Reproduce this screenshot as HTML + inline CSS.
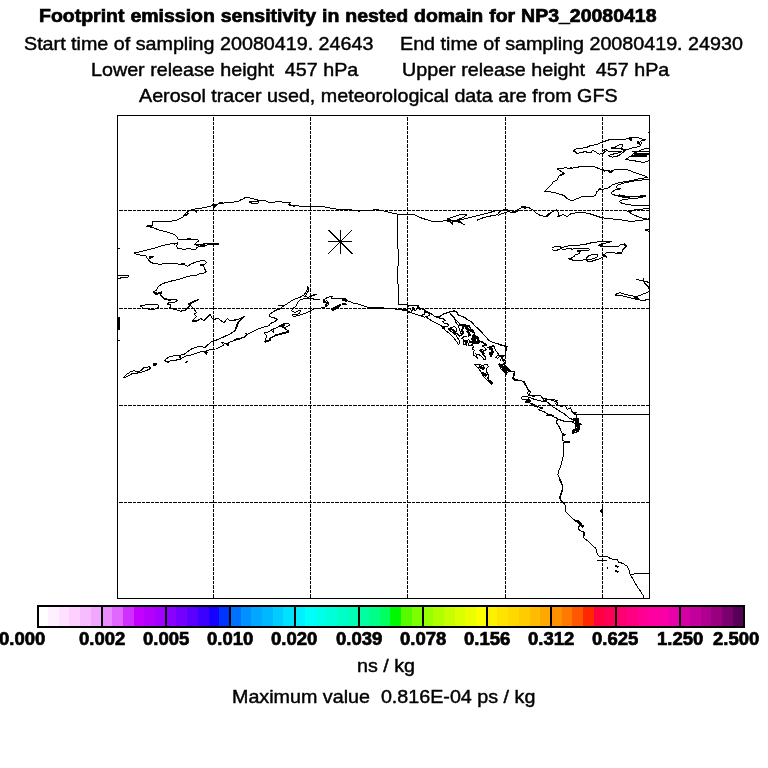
<!DOCTYPE html>
<html><head><meta charset="utf-8">
<style>
html,body{margin:0;padding:0;background:#fff;}
body{width:768px;height:768px;position:relative;overflow:hidden;font-family:"Liberation Sans",sans-serif;color:#000;}
.w{position:absolute;white-space:pre;font-size:19px;line-height:20px;height:20px;transform-origin:0 50%;-webkit-text-stroke:0.45px #000;will-change:transform;}
.b{font-weight:bold;-webkit-text-stroke:0.7px #000;}
.s{font-size:18.5px;}
svg{position:absolute;left:0;top:0;}
</style></head><body>
<svg width="768" height="768" viewBox="0 0 768 768" id="map">
<defs><clipPath id="mc"><rect x="117" y="115" width="533" height="484"/></clipPath></defs>
<g fill="none" stroke="#000" shape-rendering="crispEdges">
<g stroke-width="1" stroke-dasharray="4 1 3 1" stroke-dashoffset="7">
<line x1="213.5" y1="115" x2="213.5" y2="598"/>
<line x1="310.5" y1="115" x2="310.5" y2="598"/>
<line x1="407.5" y1="115" x2="407.5" y2="598"/>
<line x1="505.5" y1="115" x2="505.5" y2="598"/>
<line x1="602.5" y1="115" x2="602.5" y2="598"/>
<line x1="117" y1="210.5" x2="649" y2="210.5"/>
<line x1="117" y1="308.5" x2="649" y2="308.5"/>
<line x1="117" y1="405.5" x2="649" y2="405.5"/>
<line x1="117" y1="502.5" x2="649" y2="502.5"/>
</g>
<rect x="117.5" y="115.5" width="532" height="483" stroke-width="1"/>
</g>
<g fill="none" stroke="#000" stroke-linejoin="round" shape-rendering="crispEdges" clip-path="url(#mc)">
<path stroke-width="1" d="M242 199.2 L238.2 201.3 L230.7 202.5 L224 203 L219 203.7 L214 205.3 L207.3 207 L200.7 208.3 L194 209.2 L189 210.8 L185.7 213.3 L183.2 216.7 L178.2 219.7 L170.7 221.2 L162.3 221.7 L155.7 221.3 L152.7 221.7 L152.3 225.8 L146.8 226.3 L152.7 227.5 L159 230 L167.3 232 L174 234.2 L177 236.7 L178.2 239.2 L184 240 L189.8 239.7 L197.3 239.7 L198.7 240.8 L195.7 243 L194.8 245 L200.7 244.2 L207.3 243.7 L218.2 244.2 L218.2 244.7 L207.3 245 L204 246.7 L200.7 245.8 L196.5 247.5 L195.7 249.7 L189 248.7 L184 249.2 L178.2 248.7 L176.5 246.7 L177.3 243.7 L172.3 243.7 L165.7 244.7 L159 246.7 L152.3 248.7 L144 250.8 L139 252 L134.3 253 L137.3 254.7 L145.7 255.8 L147.3 258.3 L149.8 261.7 L153.2 263.3 L159 264.2 L167.3 263.7 L175.7 263.8 L180.7 264.2 L184.8 264.7 L187.3 266.3 L190.7 264.2 L195.7 262 L200.7 260.8 L204.8 260.8 L206.5 262.5 L204 264.7 L200.7 265 L204 266.7 L204.8 269.2 L206.5 271.3 L204 273 L200.7 273.3 L197.3 275 L192.3 275.3 L187.3 276.7 L182.3 278.3 L177.3 279.7 L172.3 280.8 L165.7 282.5 L160.7 284.7 L157.7 287.5 L156.5 290 L153.2 292 L155.7 294.2 L161.5 293 L160.7 295.3 L164 298.3 L170.7 300 L176.5 299.7 L177.3 300.8 L174 302.5 L169.8 302 L167.3 304.2 L170.7 305 L169.8 307.5 L173.2 309.2 L177.3 310 L180.7 311.2 L185.7 310 L188.2 307.5 L189.8 305.8 L188.2 304.2 L191.5 302.5 L195.7 300.3 L198.7 299.5 L195.7 301.3 L192.3 303 L189.8 304.7 L191.5 306.7 L194 309.2 L196.5 312.5 L194 314.2 L196.5 316.7 M149 256.7 L153.5 256.7 L149.8 258.3 L149 256.7 M184.8 215 L189 213 L187.3 215 L184.8 215 M193.2 210 L197.3 210.3 L196.5 212.2 L193.2 210 M117.7 275.3 L122.3 275.8 L128.7 275.8 L128.2 277 L123.2 277.5 L119 278.3 L117.7 278.3 M117.7 248.7 L120 248.3 M140.3 305.8 L147.3 304.7 L154 304.3 L158.2 305 L158.7 307.5 L155.7 308.7 L152.3 309.7 L147.3 308.8 L143.2 308 L140.3 305.8 M207.3 316.7 L210.7 314.2 M195.7 245 L200.7 246.7 L204.8 245 L200.7 244.2 M242 199.7 L245.3 197.5 L250.3 198 L254.5 199.2 L258.7 200.3 L264.5 200.3 L268.7 202.5 L275.3 202 L280.3 201.7 L285.3 202.5 L290.3 202.2 L288.7 204.7 L295.3 205.8 L303.7 206.3 L310.3 206.7 L317 206.2 L323.7 206.7 L330.3 208 L337 209.2 L345.3 209.7 L352 210 L358.7 211.2 L363.7 210.3 L370 210.3 M249.5 202 L253.7 201.3 L258.7 202 L257.8 203.3 L252 203.3 L249.5 202 M328.3 241.8 L352.3 241.8 M340.3 229.8 L340.3 253.8 M328.3 229.8 L352.3 253.8 M328.3 253.8 L352.3 229.8 M370 210.3 L376.7 209.7 L383.3 210.8 L390 212.5 L398 214.2 L407.5 214.2 L414.2 214.5 L420 217.5 L426.7 219.7 L431.7 221.2 L440 221.2 L446.7 220.8 L451.7 222.5 L456.7 220.8 L463.3 219.2 L470 217.5 L476.7 215.8 L483.3 214.2 L490 212.5 L498 210 M398 214.2 L397.8 240 L398.2 256.7 L397.8 276.7 L398.2 290 L398.2 304.2 L407 304.7 M446.7 219.2 L451.7 217.5 L456.7 215.8 L460.8 214.2 L466.7 215 L463.3 217.5 L458.3 219.2 L460.8 222.5 L464.2 224.7 L460 222.5 L455 220.8 L450 220 L451.7 223.3 L452.8 224.3 M476.7 220.3 L483.3 217.7 L490 216 L498 214.7 M478.3 219.7 L486.7 216.7 L493.3 215.5 M362 305.3 L370 308 L378.3 307.5 L386.7 308.3 L395 308.8 L403.3 309.7 L407.5 310 L408.3 305.8 L413.3 305 L418.3 305.8 L416.7 308.3 L420 309.2 L423.3 308.7 L425 311.7 L428.3 312.5 L431.7 314.2 L435 316.7 L438.3 317.5 L443.3 314.2 L448.3 312.5 L454.2 310.8 L456.7 312.5 L458.3 315 L463.3 316.7 L465.8 318 M407.5 310 L409.2 312.5 L413.3 313.3 L418.3 315 L423.3 316.7 L425 318 M410 308.3 L411.7 311.7 L414.2 308.3 L412.5 307.5 M450.8 314.2 L452.5 317 M556.9 168.5 L560 168.9 L564.8 167.9 L572 168.2 L576.8 167.3 L581.6 166.5 L587.6 166.1 L592.3 166.1 L595.9 167.3 L599.5 168.9 L603.1 170.3 L607.9 170.6 L610.3 171.5 L612.7 170.3 L617.5 169.4 L622.3 169.1 L625.9 169.4 L629.5 170.3 L631.9 171.5 L635.5 172.9 L639.1 174.1 L642.7 175.1 L646.2 176.3 L647.2 177.5 L643.9 178.1 L639.1 178.7 L634.3 179.9 L629.5 180.9 L624.7 181.7 L619.9 182.5 L616.3 183.5 L612.7 184.7 L610.3 186.5 L607.9 188.3 L604.3 188.9 L601.3 189.5 L599.5 188.5 L598.3 190.7 L596.5 191.9 L595.9 194.9 L593.5 196.1 L589.9 196.4 L586.4 196.7 L582.8 196.4 L579.2 197.9 L575.6 199.1 L573.2 200.3 L570.2 200 L567.2 198.5 L564.8 196.1 L562.4 194.9 L560 194.5 L555.9 192.9 L548.8 191.7 L544.3 191.7 L547.8 188.2 L551.8 184.2 L552.8 182.1 L556.9 180.1 L558.9 176 L564 173 L560 170.6 L556.9 168.5 M560 171.5 L562.4 172.1 L564.6 173.3 L562.4 174.9 L560 175.3 M573.4 150.5 L576.8 148.8 L581.6 148.2 L586.4 147.6 L589.9 145.8 L594.7 144.9 L598.3 144 L601.3 142.2 L605.5 141 L609.1 139.8 L613.9 139.2 L618.7 139.4 L623.5 139.2 L627.1 138.9 L629.5 137.7 L633.1 137.1 L637.9 137.7 L641.5 138.9 L645.1 139.4 L644.5 140.6 L640.9 141 L641.2 143.4 L640.3 145.8 L636.7 147 L633.1 147.6 L630.1 148.8 L627.1 149.3 L624.7 149.9 L622.9 149.3 L621.7 148.2 L622.3 146.6 L622.8 144.9 L621.1 144.6 L618.1 145.2 L615.1 147 L611.5 148.2 L614.5 148.8 L617.5 148.8 L620.5 148.8 L622.3 149.9 L625.3 150.9 L622.3 152.9 L619.3 155.3 L616.3 156.5 L612.7 157.1 L609.1 156.5 L608.5 155.3 L611.5 154.7 L615.1 153.5 L618.7 152.9 L621.1 151.7 L617.5 151.4 L613.9 151.4 L610.3 151.7 L607.3 150.9 L606.1 149.3 L604.3 149.9 L604.9 152.3 L602.5 153.5 L599.5 154.1 L597.1 152.9 L594.7 151.1 L592.3 150.9 L591.1 152.6 L588.8 152.9 L585.8 151.7 L582.8 152.1 L579.8 152.9 L576.8 153.3 L575 151.7 L573.4 150.5 M625.3 159.5 L628.3 157.7 L631.9 155.3 L634.3 152.9 L637.9 151.4 L641.5 149.9 L645.1 148.8 L649.2 148.2 M632.5 151.7 L649.2 151.4 M625.3 159.5 L629.5 160.1 L634.3 160.7 L639.1 161.9 L643.9 162.2 L647.4 161.3 L649.2 160.7 M649.2 179.3 L643.9 179.7 L637.9 180.5 L631.9 181.3 L627.1 182.3 L622.3 183.5 L618.7 184.7 L616.3 186.5 L617.5 188.9 L613.9 190.7 L611.5 192.5 L612.1 194.3 L615.1 195.2 L618.7 195.7 L622.3 196.7 L627.1 196.9 L631.9 196.7 L637.9 196.4 L645.7 196.2 L641.5 197.6 L636.7 198.1 L631.9 198.5 L627.1 199.1 L622.3 200 L619.3 201.5 L621.1 202.9 L624.7 203.9 L629.5 204.8 L634.3 205.3 L639.1 206 L643.9 205.7 L649.2 205.3 M649.2 208.4 L643.9 208.9 L639.1 209.6 L636.7 209.2 L634.3 210.1 L631.9 211 L629.5 212 M648.9 132.6 L649.2 133.8 M649.3 208.5 L640.2 209.2 L632.1 210.6 L628 211.6 L632.1 214 L638.2 216.7 L644.2 218.7 L649.3 219.3 M498 213.6 L501 210.6 L505.7 209.2 L510.2 210.6 L514.2 211.6 L518.3 209.6 L523.4 206.5 L528.5 207.5 L532.5 209.6 L535.6 212.6 L540.7 215.7 L546.8 216.7 L550.8 212.6 L556.9 209.6 L558.9 213.6 L557.9 216.7 L563 214.6 L567.1 216.7 L571.1 213.6 L577.2 212.6 L583.3 212.6 L589.4 213.6 L595.5 215.7 L601.6 217.7 L609.7 218.7 L619.9 219.7 L630 221.3 L640.2 220.7 L649.3 218.7 M498 215.7 L502.1 213.6 L508.2 211.6 L514.2 212.8 L520.3 210 M644.7 229.9 L649.3 228.9 L649.3 231.5 L644.7 229.9 M552.2 248.1 L553.8 246.9 L557.5 246.9 L559.4 246.2 L561.2 247.5 L565 246.9 L570 245.6 L575 245.2 L580 245 L585 244.4 L590 243.1 L595 242.2 L598.8 241.9 L602.5 241 L607.5 241.2 L611.2 241.5 L608.8 242.5 L605 243.1 L601.2 243.8 L598.8 245.2 L600 246.2 L603.8 246 L607.5 246.2 L611.2 246.9 L615 246.9 L618.8 246 L621.2 244.4 L625 243.8 L626.9 245.6 L625 247.5 L623.1 249.4 L621.9 251.9 L620 253.1 L616.2 253.5 L613.1 252.5 L608.8 252.5 L605.6 253.1 L603.8 255 L606.9 256.9 L603.8 256.2 L601.2 258.1 L598.8 259 L595.6 260 L592.5 261 L588.8 261.9 L586.9 260.6 L586.2 259.4 L582.5 260.2 L577.5 260.4 L573.1 260.2 L568.8 258.8 L571.9 257.8 L574.4 256.2 L575.6 254.4 L578.8 253.8 L580.6 251.2 L581.2 250.6 L586.2 251 L589.4 250 L588.8 248.8 L583.8 248.5 L578.8 248.5 L573.8 248.5 L571.9 249.4 L571.2 248.1 L567.5 248.8 L563.8 249.4 L560.6 248.8 L557.5 250 L554.4 250.6 L552.5 249.8 L552.2 248.1 M586.9 260.6 L586.2 258.1 L588.1 256.2 L591.2 255 L595 254.4 L598.1 255 L597.5 256.9 L595 258.1 L591.2 259.4 L587.5 260 M648.7 132.4 L649.3 134.4 M614.8 294.7 L619.9 292.7 L628 295.1 L636.1 296.7 L644.2 293.7 L649.3 291.6 M614.8 295.1 L621.9 295.7 L630 297.7 L638.2 299.8 L644.2 300.4 L649.3 298.8 M636.1 279.5 L642.2 280.5 L649.3 282.5 M643.2 278.4 L644.2 282.5 L648.3 286.6 L649.3 290.6 M498 344.5 L504.1 345.9 L507.1 347.1 L505.7 351.6 L505.1 355.6 L501 357.7 L503.1 360.7 L505.1 363.8 L502.1 365.8 L506.1 368.8 L510.2 370.9 L514.2 371.9 L513.2 377 L515.3 380 L520.3 380 L524.4 382 L526.4 386.1 L528.5 390.2 L530.5 392.2 L528.5 395.2 L533.5 396.2 L540.7 395.2 L542.7 398.3 L548.8 399.3 L554.9 401.3 L557.9 402.3 L556.9 404.8 M498 355.6 L502.1 356.6 L500 360.7 M398.3 296 L398.3 304 L406.7 304 L407.5 306 L416.7 305.2 L419.2 307.7 L423.3 309.3 L427.5 311.8 L430.8 313.5 L434.2 316 L438.3 316.8 L439.8 316.4 L443.5 313.8 L448.7 312.2 L454.4 310.7 L457 311.7 L458 314.9 L462.2 316.4 L467.4 319.5 L472.6 322.7 L473.7 324.8 L477.8 328.4 L482 332.6 L486.2 337.2 L488.8 340.4 L493.5 342.5 L498.7 344 L504.9 346.1 L507.2 346.8 L506.2 349.2 L505.4 352.9 L504.9 355.5 L502.8 357 L501.3 358.6 L503.9 359.1 L505.4 361.2 L503.9 363.3 L505 361.8 L503.3 364.3 L506.7 367.7 L510 371 L514.2 371.8 L514.2 376 L512.5 377.7 L515.8 380.2 L518 379.3 M390 308 L396.7 309.3 L407.5 310.7 L413.3 313.5 L420 315.7 L425 314.3 L424.2 311.8 L428.3 312.7 L430 315.2 L425.8 316.8 L430.8 320.2 L435 322.7 L436.2 323.2 L440.3 325.3 L442.9 326.8 L444 328.9 L446.1 331 L449.2 333.1 L452.3 336.2 L454.4 338.8 L457 341.9 L458 344 L459.3 344 L459.3 340.4 L457.5 337.8 L456 335.2 L453.4 333.6 L451.8 332 L449.7 330.5 L448.7 328.9 L450.8 327.4 L454.4 326.8 L457 328.4 L456.5 331 L454.4 332 L457.5 334.1 L459.6 336.2 L461.7 335.7 L460.6 332.6 L459.6 329.4 L458.6 326.3 L457 323.7 L455.4 321.6 L454.4 318.5 L452.8 316.4 L450.8 313.8 L452.3 315.4 L454.4 318 L457 321.1 L460.1 324.2 L463.2 325.3 L466.4 325.3 L469 325.8 L470.5 328.4 L473.1 330.5 L474.7 333.1 L473.7 335.2 L476.3 336.2 L478.4 338.3 L479.4 340.9 L482 341.9 L484.1 343.5 L486.7 344.5 L485.1 346.1 L482 345.6 L484.1 347.1 L486.2 349.2 L484.6 350.8 L482 349.2 L479.9 350.3 L481.5 352.4 L483 354.4 L485.1 356.5 L485.3 359.3 L483 359.1 L483 357.6 L481 356 L478.4 354.4 L475.8 353.9 L476.8 356 L477.8 359.1 L475.8 357 L473.7 355 L473.1 352.4 L474.7 350.3 L472.1 348.7 L473.7 346.6 L471.6 345.1 L469 346.1 L468.5 343.5 L470.5 341.4 L468.5 339.3 L466.9 341.4 L466.4 344.5 L463.2 344 L463.2 339.3 L461.7 338.3 L463.2 337.2 L465.3 336.2 L467.4 337.2 M435.1 316.9 L438.2 316.4 L440.3 318.5 L443.5 319 L445.5 320.6 L442.4 321.6 L444.5 323.7 L447.1 323.2 L448.7 325.3 L446.6 326.8 L443.5 326.3 L442.9 328.4 M487.2 347.7 L490.3 346.6 L494 345.6 L495 348.7 L496.6 351.8 L498.7 354.4 L497.1 356 L495.5 357.6 L497.6 358.1 L499.7 356.5 L501.3 355 L503.9 356 M474.2 364.3 L477.8 364.1 L482 365.4 L485.1 364.9 L487.7 364.3 L488.2 366.4 L486.7 368.5 L486.2 371.1 L487.7 373.7 L488.8 376.8 L487.2 377.9 L489.8 380.5 L492.4 383.1 L491.9 384.3 L488.8 381.5 L486.2 379.4 L484.1 376.8 L482 374.2 L480.4 371.1 L478.4 368.5 L476.3 366.4 L474.2 364.3 M498.7 365.4 L501.8 364.3 L504.9 364.9 L507 367.5 L509.6 369.5 L509.1 371.6 L507 372.7 L506.5 374.8 L504.9 372.7 L502.8 370.6 L500.8 368.5 L498.7 365.4 M509.6 371.1 L512 371.4 M407.5 306 L407.5 312.7 L411.7 311.8 L413.3 307.7 L415 311 L417.5 308.5 M196.5 316.7 L194 319.3 L192.3 321.3 L197.3 321 L200.7 318.5 L204 321 L206.5 317.7 L210.7 315.2 L211.5 317.7 L214 319.3 L218.2 318.5 L221.5 321 L224 322.7 L227.3 318.5 L230.7 321 L235.7 320.2 L242 317.7 M242 317.7 L239 321 L237.3 326 L235.7 330.2 L230.7 333.5 L224 336.8 L217.3 339.7 L211.5 341.8 L207.3 345.2 L204.8 347.7 L200.7 346.3 L195.7 347.3 L190.7 349.3 L187.3 351.8 L184 354.3 L179.8 355.2 L174 355.7 L169 356.8 L165.7 359.3 L164.8 361 L168.2 362.3 L171.5 360.2 L175.7 360.2 L180.7 359 L185.7 356 L190.7 355.2 L195.7 353.5 L200.7 351.8 L205.7 351 L210.7 349.3 L215.7 349 L220.7 346.8 L224 345.2 L221.5 342.7 L227.3 343.5 L230.7 341.8 L235.7 340.2 L242 338.5 M123.2 378 L126.5 374.3 L130.7 371.8 L134 370.7 L138.2 372.3 L141.5 370.2 L144 367.7 L149.8 366.8 L150.3 368.5 L147.3 370.2 L142.3 371.8 L138.2 373 L132.3 373.5 L128.2 376 L123.2 378 M117.7 341 L120 340.7 M307.3 285.8 L308.2 288.3 L305.7 292.5 L304 295 L299.8 297.5 L294 299.2 L289 302.5 L284 305.8 L279 309.2 L274.8 310.8 L269.8 314.2 L269 316.7 L273.2 317.5 L277.3 319.2 L274.8 321.7 L270.7 323.3 L269 325.8 L262.3 327.5 L255.7 330 L250.7 332.5 L246.5 335 L244 337.5 L239 338.3 L234 339.7 M234 320 L238.2 319.2 L242.3 317.5 L244.8 316.3 L240.7 320 L237.3 323.3 L235.7 328.3 L234 331.7 M307.3 285.8 L309 290 L306.5 294.2 L304.8 296.3 L308.2 297.5 L310.7 295.8 L316.5 294.2 L311.5 296.3 L309.8 298.3 L315.7 299.2 L319.8 299.7 L310.7 298.7 L304 298.7 L299.8 300 L297.3 302.5 L296.5 305.8 L293.2 308.3 L291.5 310.8 L294.8 312.5 L298.2 310.8 L300.7 310.8 L299 313.7 L294.8 315 L292.3 314.7 L293.2 316.7 L299 315.3 L304 313.7 L308.2 312 L312.3 310 L315.7 308.3 L320.7 308 L324.8 307 L328.2 305 L328.7 302.5 L326.5 300.8 L324 302.5 L323.2 300.3 L325.7 298.3 L329.8 296.7 L332.3 296.3 L331.5 298.7 L335.7 298.3 L342.3 298 L345.7 298.3 L342.3 300.3 L347.3 300.8 L350.7 301.7 L354 303.3 L359 304.2 L362 305.3 M278.2 305.8 L284 305.3 M264 333 L269 331.7 L272.3 329.2 L277.3 327.5 L280.7 325 L284.8 323.3 L288.2 323 L289.8 325 L287.3 326.7 L284 327.5 L285.7 329.2 L289 330.8 L285.7 333 L281.5 334.2 L277.3 335.3 L273.2 336.7 L269.8 338.3 L270.7 340 L267.3 340.8 L264.8 342 L265.7 339.2 L266.5 335.8 L264 333 M271.5 330.8 L274 328.3 L273.2 332.5 L271.5 330.8 M514.2 380 L522.4 381 L525.4 385.1 L528.5 391.1 L527.5 393.2 L529 394.8 L531.6 395.8 L534.2 395.5 L537.9 395.3 L541 395.8 L542 397.9 L544.6 398.9 L547.2 399.5 L550.4 400 L553.5 399.7 L557.1 400.5 L556.6 402.6 L555.1 403.6 L557.7 405.2 L560.8 406.2 L563.4 405.2 L566 406.8 L567 409.4 L569.1 408.8 L570.7 407.8 L571.2 410.4 L572.8 412.5 L575.9 413.5 L576.4 414.6 L576.9 417.7 L578.5 419.2 L579 423.4 L581.4 424.2 L579 425 L579 429.7 L576.9 432.3 L572.8 433.3 L574.3 430.7 L575.9 428.1 L575.4 425.5 L575.9 423.9 L573.3 422.4 L570.2 421.3 L567 421.9 L563.9 421.3 L560.8 420.3 L557.7 419.2 L556.6 421.3 L557.1 423.9 L558.7 426 L560.3 429.1 L561.8 432.8 L563 433.8 L562.6 437.9 L563 440.9 L570.1 442 L563.4 442 L564 449.1 L563 457.2 L561 465.3 L558.5 471.4 L557.9 474.5 L560 479.5 L562 483.6 L562.6 489.7 L561 494.8 L560 497.8 L562 501.9 L565 504.9 L566 512 L569.1 515.1 L573.2 519.1 L576.2 521.2 L578.2 520.2 L580.3 523.2 L583.3 526.2 L579.2 525.8 L578.2 529.3 L581.3 531.3 L584.3 532.3 L584.9 536 M521.2 397.9 L522.8 396.5 L525.9 396.3 L529.5 397.6 L533.2 398.9 L536.8 400 L540.5 401 L544.1 401.5 L547.2 402.1 L549.3 403.6 L551.4 405.7 L553.5 407.3 L556.1 408.8 L558.7 410.4 L561.8 412.5 L564.4 414 L567 416.1 L569.1 418.2 L572.2 419.2 L574.3 420.5 L572.8 421.5 L570.2 421.1 L567 421.5 L563.9 421.1 L560.8 420.1 L558.2 419 L556.1 417.7 L553 416.6 L553.5 415.3 L550.4 415.6 L546.7 415.1 L548.3 414 L546.2 413 L543.6 411.4 L540 410.4 L538.4 409.4 L541.5 408.8 L543.1 407.8 L540.5 407.3 L537.9 406.8 L534.2 406.2 L531.6 405.2 L532.7 404.1 L530.6 403.1 L525.9 402.6 L525.9 401 L530.6 400.5 L528.5 398.9 L525.4 399.7 L522.2 399.5 L521.2 397.9 M576.2 414.1 L649.3 414.1 M600.6 511 L602.6 509 L602.6 513 L600.6 511 M559.2 480 L561.7 483.3 L562.5 488.3 L560.8 493.3 L559.7 497.5 L560.8 500.8 L564.2 502.5 L565.8 506.7 L565.8 511.7 L569.2 515 L572.5 518.3 L575 521.3 L578.3 521.7 L579.2 525 L578.3 528.3 L580.8 530.8 L584.2 532.5 L583.3 537.5 L587.5 540.8 L591.7 545 L595.8 548.3 L596.7 552.5 L598.3 555.8 L602.5 556.7 L606.7 556.3 L610 558.3 L613.3 559.7 L617.5 560 L618.3 562 L622.5 563.3 L626.7 565.8 L629.2 570 L630 574.2 L632.5 578.3 L636.7 585.8 L640.8 591.7 L643.3 595.8 L643.8 598.3 M630 574.2 L638.3 573.8 L649.5 573.3 M597.5 560.7 L606.7 560.8"/>
<path stroke-width="1.8" d="M210.7 244.2 L218.7 244.3 M146.8 226.3 L151.5 226.3 M212.3 204.2 L215.7 205.8 L213.2 207.5 M219 203 L223.2 202.5 M174 243.7 L178.2 243.3 M187.3 239.2 L190.7 238.8 M180.7 263.8 L184.8 264.3 M199.8 264.7 L204 265.3 M152.7 292 L157.7 293.7 L162.3 292 M164 298.7 L171.5 300.3 M288.7 205 L295.3 206 M447 219.5 L453.3 220.8 L460 220 M370 308 L380 307.8 M570.2 168.2 L573.2 168.5 M602.5 170.1 L605.5 170.9 M608.5 170.9 L610.9 172.5 L612.7 170.6 M598.9 188.9 L601.3 189.7 M641.5 139.9 L644.8 140 M611.5 148.2 L616.3 147 M603.7 149.9 L605.3 152.1 M573.4 150.5 L575.6 152.1 M634.3 153.9 L649.2 154 M628.9 156.5 L647.4 155.8 M616.9 189 L620.5 189.2 M624.7 196.7 L645.7 196.3 M545.7 216.7 L551.8 212 M521.4 207.1 L526.4 207.9 M577.2 250.8 L581.2 250.9 M623.8 244 L626.2 246 M616.9 253.1 L622.5 252.5 M603.1 255 L606.9 256.9 M598.1 245.6 L601.9 244.8 M568.8 258.8 L571.9 259.4 M634.1 297.1 L639.2 298.8 M499 363.8 L506.1 372.9 M436.2 316.9 L439.8 317.7 M449.2 328.4 L452.3 329.4 L454.4 331 L452.8 332.6 L455.4 333.9 M458.6 324.8 L462.2 325.3 L463.2 327.9 L461.7 330.5 L463.2 332.6 L461.7 334.1 M466.4 331 L469.5 333.1 L468.5 335.7 L471.1 335.2 M469.5 340.9 L473.1 343.5 L470.5 346.1 M482 341.9 L484.6 344 L487.2 344.8 M487.7 347.7 L494.5 346.1 M479.9 350.3 L483 351.8 L484.1 354.4 M488.2 380.5 L492.2 383.9 M503.9 368.5 L505.4 372.7 M512.5 377.7 L514.2 379.3 M179.8 356 L180.7 359 M185.7 361.7 L187.3 362.2 M192.3 321 L197.3 321.3 M331.5 309.7 L335.7 307 L339.8 305 L338.2 307 L334 309.7 L331.5 309.7 M342.3 304.2 L347.3 304.5 M324 300.8 L327.3 303.3 L324.8 305.8 M275.7 310 L279.8 308.7 M279 326.7 L284 325 L282.3 328.3 M274 335.8 L284 333 L289 331.7 M264.8 342 L269.8 340.3 M245.7 333.3 L247.3 335 M531.6 403.8 L538.4 407.1 M547.2 414.8 L553.5 415.6 M525.9 400.7 L530.6 400.7 M543.1 400.3 L547.2 400.7 M559.8 406.2 L563.9 405.5 M577.2 520.6 L580.3 524.6 L583.3 526.2 M606.7 567.5 L607.7 568.3 M615 565.8 L618.3 567.2 M615.3 570.5 L618.3 572.2"/>
<path stroke-width="2.6" d="M628.9 138.9 L631.9 139.5 M636.7 142.2 L640 143.4 M618.7 195.5 L624.7 196.7 M442.9 326.8 L444 328.9 M462.2 325.3 L469.5 326.3 M465.3 327.4 L467.9 329.4 L471.6 330.5 L473.7 332.6 M472.1 336.7 L477.8 337.8 L478.4 342.5 L473.7 343 L472.6 339.3 L475.8 339.9 M463.2 340.9 L466.9 341.4 L465.3 345.1 M488.8 348.2 L491.9 349.2 L492.4 352.4 L490.9 355.5 L489.8 351.8 M478.9 366.4 L483 368.5 L484.6 366.9 M482 372.7 L485.1 375.3 L486.2 373.7 M500.8 365.9 L504.9 367.5 L507.5 371.1 M204.8 351.8 L207.3 353.5 M226.5 343.5 L229 345.2 M153.2 364.3 L156.5 364.7 M118.5 317 L118.5 329.5 M342.3 300 L347 300.3 M572.8 413 L576.4 413.8 M577.5 417.7 L578 431.8 M575.4 418.2 L576.4 423.4 M572.8 419.2 L578.5 420.3 M572.2 432.3 L575.9 429.1 L578 431.2 M561.8 434.6 L565.5 434.9 M577.5 520.8 L580 523 L581.7 525.8 L583.3 526.7"/>
</g>
<g shape-rendering="crispEdges">
<rect x="37" y="606" width="11" height="22" fill="#ffffff"/>
<rect x="48" y="606" width="11" height="22" fill="#fff0ff"/>
<rect x="59" y="606" width="10" height="22" fill="#ffe0ff"/>
<rect x="69" y="606" width="11" height="22" fill="#fdd0ff"/>
<rect x="80" y="606" width="11" height="22" fill="#f6bcff"/>
<rect x="91" y="606" width="11" height="22" fill="#f0a8ff"/>
<rect x="102" y="606" width="10" height="22" fill="#ea8cff"/>
<rect x="112" y="606" width="11" height="22" fill="#e068ff"/>
<rect x="123" y="606" width="11" height="22" fill="#d030ff"/>
<rect x="134" y="606" width="10" height="22" fill="#c400ff"/>
<rect x="144" y="606" width="11" height="22" fill="#b400fc"/>
<rect x="155" y="606" width="11" height="22" fill="#a200ff"/>
<rect x="166" y="606" width="10" height="22" fill="#8c00ff"/>
<rect x="176" y="606" width="11" height="22" fill="#7400ff"/>
<rect x="187" y="606" width="11" height="22" fill="#5a00ff"/>
<rect x="198" y="606" width="11" height="22" fill="#3c00ff"/>
<rect x="209" y="606" width="10" height="22" fill="#1800ff"/>
<rect x="219" y="606" width="11" height="22" fill="#0034ff"/>
<rect x="230" y="606" width="11" height="22" fill="#0070ff"/>
<rect x="241" y="606" width="10" height="22" fill="#0090ff"/>
<rect x="251" y="606" width="11" height="22" fill="#00a8ff"/>
<rect x="262" y="606" width="11" height="22" fill="#00b8ff"/>
<rect x="273" y="606" width="10" height="22" fill="#00ccff"/>
<rect x="283" y="606" width="11" height="22" fill="#00e0ff"/>
<rect x="294" y="606" width="11" height="22" fill="#00f0ff"/>
<rect x="305" y="606" width="11" height="22" fill="#00fff8"/>
<rect x="316" y="606" width="10" height="22" fill="#00ffe8"/>
<rect x="326" y="606" width="11" height="22" fill="#00ffd8"/>
<rect x="337" y="606" width="11" height="22" fill="#00ffc8"/>
<rect x="348" y="606" width="10" height="22" fill="#00ffb4"/>
<rect x="358" y="606" width="11" height="22" fill="#00ffa0"/>
<rect x="369" y="606" width="11" height="22" fill="#00ff88"/>
<rect x="380" y="606" width="10" height="22" fill="#00ff60"/>
<rect x="390" y="606" width="11" height="22" fill="#00f800"/>
<rect x="401" y="606" width="11" height="22" fill="#58fa00"/>
<rect x="412" y="606" width="11" height="22" fill="#7cff00"/>
<rect x="423" y="606" width="10" height="22" fill="#98ff00"/>
<rect x="433" y="606" width="11" height="22" fill="#b0ff00"/>
<rect x="444" y="606" width="11" height="22" fill="#c8ff00"/>
<rect x="455" y="606" width="10" height="22" fill="#dcff00"/>
<rect x="465" y="606" width="11" height="22" fill="#ecff00"/>
<rect x="476" y="606" width="11" height="22" fill="#ffff00"/>
<rect x="487" y="606" width="10" height="22" fill="#fff000"/>
<rect x="497" y="606" width="11" height="22" fill="#ffe400"/>
<rect x="508" y="606" width="11" height="22" fill="#ffd800"/>
<rect x="519" y="606" width="11" height="22" fill="#ffcc00"/>
<rect x="530" y="606" width="10" height="22" fill="#ffbc00"/>
<rect x="540" y="606" width="11" height="22" fill="#ffa800"/>
<rect x="551" y="606" width="11" height="22" fill="#ff9000"/>
<rect x="562" y="606" width="10" height="22" fill="#ff7800"/>
<rect x="572" y="606" width="11" height="22" fill="#ff5800"/>
<rect x="583" y="606" width="11" height="22" fill="#ff2800"/>
<rect x="594" y="606" width="10" height="22" fill="#ff0040"/>
<rect x="604" y="606" width="11" height="22" fill="#ff0058"/>
<rect x="615" y="606" width="11" height="22" fill="#ff0070"/>
<rect x="626" y="606" width="11" height="22" fill="#ff0080"/>
<rect x="637" y="606" width="10" height="22" fill="#ff0090"/>
<rect x="647" y="606" width="11" height="22" fill="#ff00a0"/>
<rect x="658" y="606" width="11" height="22" fill="#fc00a8"/>
<rect x="669" y="606" width="10" height="22" fill="#e800a8"/>
<rect x="679" y="606" width="11" height="22" fill="#d400a4"/>
<rect x="690" y="606" width="11" height="22" fill="#c4009c"/>
<rect x="701" y="606" width="10" height="22" fill="#b00090"/>
<rect x="711" y="606" width="11" height="22" fill="#980080"/>
<rect x="722" y="606" width="11" height="22" fill="#7a0070"/>
<rect x="733" y="606" width="11" height="22" fill="#580058"/>
<rect x="38" y="606" width="706" height="21" fill="none" stroke="#000" stroke-width="2"/>
<rect x="101" y="606" width="2" height="21" fill="#000"/>
<rect x="165" y="606" width="2" height="21" fill="#000"/>
<rect x="229" y="606" width="2" height="21" fill="#000"/>
<rect x="294" y="606" width="2" height="21" fill="#000"/>
<rect x="358" y="606" width="2" height="21" fill="#000"/>
<rect x="422" y="606" width="2" height="21" fill="#000"/>
<rect x="486" y="606" width="2" height="21" fill="#000"/>
<rect x="550" y="606" width="2" height="21" fill="#000"/>
<rect x="615" y="606" width="2" height="21" fill="#000"/>
<rect x="679" y="606" width="2" height="21" fill="#000"/>
</g>
</svg>
<!--TEXT-->
<div class="w b s" id="l1" style="left:39.3px;top:6.3px;transform:scaleX(1.053);word-spacing:0.5px">Footprint emission sensitivity in nested domain for NP3_20080418</div>
<div class="w" id="l2a" style="left:23.5px;top:33.6px;transform:scaleX(1.037);">Start time of sampling 20080419. 24643</div>
<div class="w" id="l2b" style="left:399.5px;top:33.6px;transform:scaleX(1.037);">End time of sampling 20080419. 24930</div>
<div class="w" id="l3a" style="left:91px;top:60.2px;transform:scaleX(1.037);">Lower release height  457 hPa</div>
<div class="w" id="l3b" style="left:401.5px;top:60.2px;transform:scaleX(1.037);">Upper release height  457 hPa</div>
<div class="w" id="l4" style="left:139.3px;top:85.9px;transform:scaleX(1.037);">Aerosol tracer used, meteorological data are from GFS</div>
<div class="w" id="u" style="left:357px;top:656.3px;transform:scaleX(1.037);">ns / kg</div>
<div class="w" id="mx" style="left:231.5px;top:687px;transform:scaleX(1.037);">Maximum value  0.816E-04 ps / kg</div>
<div class="w b s" id="c0" style="left:-0.6px;top:629.2px;transform:scaleX(1);">0.000</div>
<div class="w b s" id="c1" style="left:78.8px;top:629.2px;transform:scaleX(1);">0.002</div>
<div class="w b s" id="c2" style="left:142.8px;top:629.2px;transform:scaleX(1);">0.005</div>
<div class="w b s" id="c3" style="left:207.2px;top:629.2px;transform:scaleX(1);">0.010</div>
<div class="w b s" id="c4" style="left:271.4px;top:629.2px;transform:scaleX(1);">0.020</div>
<div class="w b s" id="c5" style="left:335.6px;top:629.2px;transform:scaleX(1);">0.039</div>
<div class="w b s" id="c6" style="left:399.8px;top:629.2px;transform:scaleX(1);">0.078</div>
<div class="w b s" id="c7" style="left:463.9px;top:629.2px;transform:scaleX(1);">0.156</div>
<div class="w b s" id="c8" style="left:528.1px;top:629.2px;transform:scaleX(1);">0.312</div>
<div class="w b s" id="c9" style="left:592.4px;top:629.2px;transform:scaleX(1);">0.625</div>
<div class="w b s" id="c10" style="left:656.5px;top:629.2px;transform:scaleX(1);">1.250</div>
<div class="w b s" id="c11" style="left:712.9px;top:629.2px;transform:scaleX(1);">2.500</div>
<!--/TEXT-->
</body></html>
